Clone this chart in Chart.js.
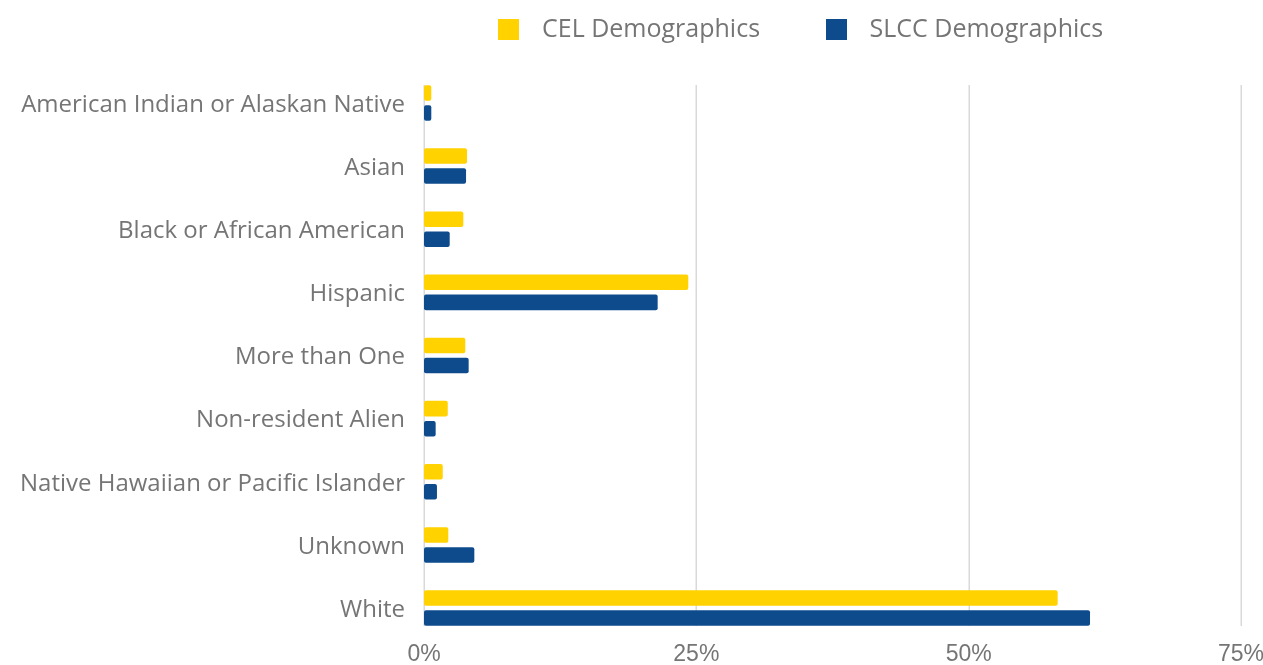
<!DOCTYPE html>
<html>
<head>
<meta charset="utf-8">
<script src="https://cdn.jsdelivr.net/npm/chart.js@4/dist/chart.umd.min.js"></script>
<style>
html,body{margin:0;padding:0;background:#fff;}
#wrap{width:1263px;height:665px;position:relative;}
</style>
</head>
<body>
<div id="wrap"><canvas id="c"></canvas></div>
<script>
const categories = [
  "American Indian or Alaskan Native",
  "Asian",
  "Black or African American",
  "Hispanic",
  "More than One",
  "Non-resident Alien",
  "Native Hawaiian or Pacific Islander",
  "Unknown",
  "White"
];
const celValues  = [0.67, 3.95, 3.61, 24.26, 3.79, 2.18, 1.72, 2.23, 58.17];
const slccValues = [0.67, 3.86, 2.36, 21.45, 4.10, 1.07, 1.19, 4.62, 61.14];
const seriesNames = ["CEL Demographics", "SLCC Demographics"];
const xTicks = [0, 25, 50, 75];

const GRAY = '#757575';
const YELLOW = '#FFD200';
const BLUE = '#0E4B8D';
const LEGEND_FONT = 25;
const LEGEND_W = 42;

function legendSquare(color) {
  const c = document.createElement('canvas');
  c.width = 21; c.height = 21;
  const g = c.getContext('2d');
  g.fillStyle = color;
  g.fillRect(0, 0, 21, 21);
  return c;
}

const gridPlugin = {
  id: 'customGrid',
  beforeDatasetsDraw(chart) {
    const {ctx, scales: {x, y}} = chart;
    const top = y.getPixelForValue(0) - 18;
    const bottom = y.getPixelForValue(categories.length - 1) + 18;
    ctx.save();
    ctx.strokeStyle = '#d9d9d9';
    ctx.lineWidth = 1.5;
    xTicks.forEach(v => {
      const px = Math.round(x.getPixelForValue(v)) + 0.25;
      ctx.beginPath();
      ctx.moveTo(px, top);
      ctx.lineTo(px, bottom);
      ctx.stroke();
    });
    ctx.restore();
  }
};

const legendTweak = {
  id: 'legendTweak',
  beforeLayout(chart) {
    const lg = chart.legend;
    if (lg && !lg.__patched) {
      const orig = lg.fit;
      lg.fit = function () { orig.call(this); this.height = 71.4; };
      lg.__patched = true;
    }
  },
  afterLayout(chart) {
    const lg = chart.legend;
    if (!lg) return;
    const pad = lg.options.labels.padding;
    lg.left = 487.5 - pad;
    lg.top = 29.5 - LEGEND_FONT / 2 - pad;
  }
};

new Chart(document.getElementById('c'), {
  type: 'bar',
  data: {
    labels: categories,
    datasets: [
      {label: seriesNames[0], data: celValues, backgroundColor: YELLOW, borderRadius: 2, borderSkipped: false},
      {label: seriesNames[1], data: slccValues, backgroundColor: BLUE, borderRadius: 2, borderSkipped: false}
    ]
  },
  options: {
    indexAxis: 'y',
    responsive: true,
    maintainAspectRatio: false,
    animation: false,
    categoryPercentage: 0.634,
    barPercentage: 0.775,
    layout: {padding: {left: 0, right: 22, top: 0, bottom: 0}},
    plugins: {
      legend: {
        display: true,
        position: 'top',
        align: 'start',
        labels: {
          usePointStyle: true,
          pointStyleWidth: LEGEND_W,
          boxHeight: 21,
          padding: 55,
          color: GRAY,
          font: {family: "'Open Sans', 'Noto Sans', sans-serif", size: LEGEND_FONT},
          generateLabels(chart) {
            return chart.data.datasets.map((d, i) => ({
              text: d.label,
              fillStyle: d.backgroundColor,
              strokeStyle: d.backgroundColor,
              lineWidth: 0,
              pointStyle: legendSquare(d.backgroundColor),
              fontColor: GRAY,
              hidden: false,
              datasetIndex: i
            }));
          }
        }
      },
      tooltip: {enabled: false}
    },
    scales: {
      x: {
        min: 0,
        max: 75,
        grid: {display: false, drawTicks: false},
        border: {display: false},
        afterFit(scale) {
          scale.height = 25.4;
          scale.paddingLeft = 0;
          scale.paddingRight = 22;
        },
        afterBuildTicks(scale) { scale.ticks = xTicks.map(v => ({value: v})); },
        ticks: {
          padding: 4,
          color: GRAY,
          font: {family: "'Liberation Sans', Arial, sans-serif", size: 23, lineHeight: 1},
          callback: v => v + '%'
        }
      },
      y: {
        grid: {display: true, drawOnChartArea: false, drawTicks: true, tickLength: 19, tickColor: 'rgba(0,0,0,0)'},
        border: {display: false},
        afterFit(scale) { scale.width = 424; },
        ticks: {
          padding: 0,
          labelOffset: 2,
          color: GRAY,
          font: {family: "'Open Sans', 'Noto Sans', sans-serif", size: 24}
        }
      }
    }
  },
  plugins: [gridPlugin, legendTweak]
});
</script>
</body>
</html>
